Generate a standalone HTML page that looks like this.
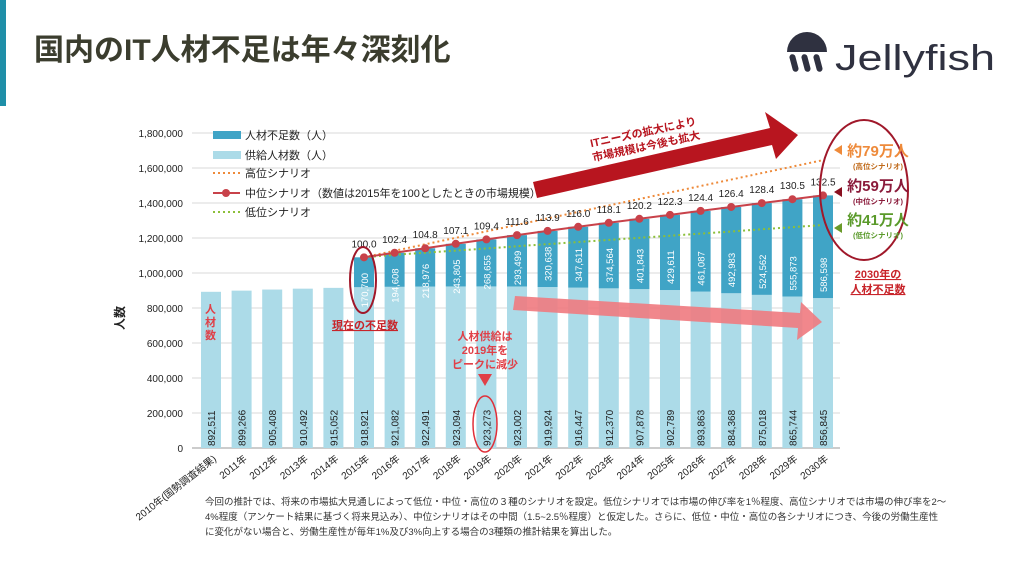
<!DOCTYPE html>
<html><head><meta charset="utf-8"><style>
body{margin:0;background:#fff;width:1024px;height:576px;overflow:hidden;font-family:"Liberation Sans","Noto Sans CJK JP",sans-serif}
</style></head><body>
<svg id="c" width="1024" height="576" viewBox="0 0 1024 576" xmlns="http://www.w3.org/2000/svg" font-family="Liberation Sans, Noto Sans CJK JP, sans-serif">
<rect x="0" y="0" width="6" height="106" fill="#1f8fa8"/>
<text x="34" y="60" font-size="30" font-weight="600" fill="#3b3d2e">国内のIT人材不足は年々深刻化</text>
<g>
<path d="M787,52 a20,20 0 0 1 40,0 z" fill="#2f3140"/>
<rect x="791" y="54" width="6" height="18" rx="3" fill="#2f3140" transform="rotate(-15 794 63)"/>
<rect x="803" y="54" width="6" height="18" rx="3" fill="#2f3140" transform="rotate(-15 806 63)"/>
<rect x="815" y="54" width="6" height="18" rx="3" fill="#2f3140" transform="rotate(-15 818 63)"/>
<text x="835" y="70" font-size="36" fill="#2f3140" textLength="160" lengthAdjust="spacingAndGlyphs">Jellyfish</text>
</g>
<g id="chart"></g>
<g font-size="9.5" fill="#333">
<text x="205" y="505">今回の推計では、将来の市場拡大見通しによって低位・中位・高位の３種のシナリオを設定。低位シナリオでは市場の伸び率を1％程度、高位シナリオでは市場の伸び率を2～</text>
<text x="205" y="520">4%程度（アンケート結果に基づく将来見込み）、中位シナリオはその中間（1.5~2.5％程度）と仮定した。さらに、低位・中位・高位の各シナリオにつき、今後の労働生産性</text>
<text x="205" y="535">に変化がない場合と、労働生産性が毎年1%及び3%向上する場合の3種類の推計結果を算出した。</text>
</g>
</svg>
<script>
const years=["2010年(国勢調査結果)","2011年","2012年","2013年","2014年","2015年","2016年","2017年","2018年","2019年","2020年","2021年","2022年","2023年","2024年","2025年","2026年","2027年","2028年","2029年","2030年"];
const supply=[892511,899266,905408,910492,915052,918921,921082,922491,923094,923273,923002,919924,916447,912370,907878,902789,893863,884368,875018,865744,856845];
const shortage=[0,0,0,0,0,170700,194608,218976,243805,268655,293499,320638,347611,374564,401843,429611,461087,492983,524562,555873,586598];
const marketIndex=["100.0","102.4","104.8","107.1","109.4","111.6","113.9","116.0","118.1","120.2","122.3","124.4","126.4","128.4","130.5","132.5"];
const highScenario=[1090000,1127000,1164000,1201000,1238000,1275000,1312000,1349000,1386000,1423000,1460000,1497000,1534000,1571000,1608000,1645000];
const lowScenario=[1090000,1104000,1116000,1128000,1140000,1153000,1165000,1177000,1189000,1201000,1213000,1225000,1237000,1250000,1262000,1274000];
const yTicks=[0,200000,400000,600000,800000,1000000,1200000,1400000,1600000,1800000];

const NS="http://www.w3.org/2000/svg";
const g=document.getElementById('chart');
function el(t,a,p){const e=document.createElementNS(NS,t);for(const k in a)e.setAttribute(k,a[k]);(p||g).appendChild(e);return e;}
const y=v=>448-v*0.000175;
const x=i=>211+i*30.6;
const fmt=v=>v.toLocaleString('en-US');
yTicks.forEach(v=>{
  const l=el('line',{x1:192,x2:840,y1:y(v),y2:y(v),stroke:'#d8d8d8','stroke-width':1});
  
  
  const t=el('text',{x:183,y:y(v)+4,'text-anchor':'end','font-size':10,fill:'#222'});
  t.textContent=fmt(v);
  
  
});
const ax=el('line',{x1:192,x2:840,y1:y(0),y2:y(0),stroke:'#999'});


const yt=el('text',{x:0,y:0,'font-size':12,'font-weight':'bold',fill:'#222',transform:'translate(124,318) rotate(-90)','text-anchor':'middle'});
yt.textContent='人数';


years.forEach((yr,i)=>{
  const cx=x(i),w=20;
  const b=el('rect',{x:cx-w/2,y:y(supply[i]),width:w,height:y(0)-y(supply[i]),fill:'#acdbe8'});
  
  
  const st=el('text',{x:0,y:0,transform:`translate(${cx+4},446) rotate(-90)`,'font-size':10,fill:'#222'});
  st.textContent=fmt(supply[i]);
  
  
  if(shortage[i]>0){
    const top=supply[i]+shortage[i];
    const sb=el('rect',{x:cx-w/2,y:y(top),width:w,height:y(supply[i])-y(top),fill:'#40a4c6'});
    
    
    const start=Math.max(y(supply[i])-6,y(top)+50);
    const sl=el('text',{x:0,y:0,transform:`translate(${cx+4},${start}) rotate(-90)`,'font-size':9.5,fill:'#fff'});
    sl.textContent=fmt(shortage[i]);
    
    
  }
  const xl=el('text',{x:0,y:0,transform:`translate(${cx+6},460) rotate(-38)`,'text-anchor':'end','font-size':10,fill:'#222'});
  xl.textContent=yr;
  
  
});
function pts(arr){return arr.map((v,j)=>`${x(j+5)},${y(v)}`).join(' ');}
const hl=el('polyline',{points:pts(highScenario),fill:'none',stroke:'#ee8a3a','stroke-width':2,'stroke-dasharray':'2 3'});


const ll=el('polyline',{points:pts(lowScenario),fill:'none',stroke:'#8cbf3a','stroke-width':2,'stroke-dasharray':'2 3'});


const mid=marketIndex.map((m,j)=>supply[j+5]+shortage[j+5]);
const ml=el('polyline',{points:pts(mid),fill:'none',stroke:'#c8424a','stroke-width':2});


mid.forEach((v,j)=>{
  const c=el('circle',{cx:x(j+5),cy:y(v),r:4,fill:'#c8424a'});
  
  
  const t=el('text',{x:x(j+5),y:y(v)-10,'text-anchor':'middle','font-size':10,fill:'#222'});
  t.textContent=marketIndex[j];
  
  
});
</script>
<svg width="1024" height="576" style="position:absolute;left:0;top:0" font-family="Liberation Sans, Noto Sans CJK JP, sans-serif">
<g font-size="11" fill="#222">
<rect x="213" y="131" width="28" height="8" fill="#40a4c6"/><text x="245" y="139">人材不足数（人）</text>
<rect x="213" y="151" width="28" height="8" fill="#acdbe8"/><text x="245" y="159">供給人材数（人）</text>
<line x1="213" y1="173" x2="240" y2="173" stroke="#ee8a3a" stroke-width="2" stroke-dasharray="2 3"/><text x="245" y="177">高位シナリオ</text>
<line x1="213" y1="193" x2="240" y2="193" stroke="#c8424a" stroke-width="2"/><circle cx="226" cy="193" r="4" fill="#c8424a"/><text x="245" y="197">中位シナリオ（数値は2015年を100としたときの市場規模）</text>
<line x1="213" y1="212" x2="240" y2="212" stroke="#8cbf3a" stroke-width="2" stroke-dasharray="2 3"/><text x="245" y="216">低位シナリオ</text>
</g>
<g>
<polygon points="533,182 770,128 765,112 798,135 776,159 772,145 537,198" fill="#b8151f"/>
<text transform="translate(644,136) rotate(-12)" text-anchor="middle" font-size="11" font-weight="bold" fill="#b8151f">ITニーズの拡大により</text>
<text transform="translate(647,150) rotate(-12)" text-anchor="middle" font-size="11" font-weight="bold" fill="#b8151f">市場規模は今後も拡大</text>
</g>
<polygon points="515,296 800,313 801,302 822,322 797,340 798,328 513,310" fill="#f07a80" opacity="0.9"/>
<ellipse cx="864" cy="190" rx="44" ry="70" fill="none" stroke="#a0182a" stroke-width="2"/>
<g font-weight="bold" text-anchor="middle">
<polygon points="834,150 842,145 842,155" fill="#ee8a3a"/>
<text x="878" y="156" font-size="15" fill="#ee8a3a">約79万人</text><text x="878" y="169" font-size="7.5" fill="#c06a1a">(高位シナリオ)</text>
<polygon points="834,192 842,187 842,197" fill="#8a1020"/>
<text x="878" y="191" font-size="15" fill="#8a1a3a">約59万人</text><text x="878" y="204" font-size="7.5" fill="#8a1a3a">(中位シナリオ)</text>
<polygon points="834,228 842,223 842,233" fill="#6a9a2a"/>
<text x="878" y="225" font-size="15" fill="#5a9a2a">約41万人</text><text x="878" y="238" font-size="7.5" fill="#5a9a2a">(低位シナリオ)</text>
</g>
<g font-size="11" font-weight="bold" fill="#c8242a" text-anchor="middle" text-decoration="underline">
<text x="878" y="278">2030年の</text><text x="878" y="293">人材不足数</text></g>
<ellipse cx="363" cy="280" rx="13" ry="33" fill="none" stroke="#a0182a" stroke-width="2"/>
<text x="365" y="329" font-size="11" font-weight="bold" fill="#c8242a" text-anchor="middle" text-decoration="underline">現在の不足数</text>
<ellipse cx="485" cy="424" rx="12" ry="28" fill="none" stroke="#e0303a" stroke-width="1.5"/>
<g font-size="11" font-weight="bold" fill="#e04048" text-anchor="middle">
<text x="485" y="340">人材供給は</text><text x="485" y="354">2019年を</text><text x="485" y="368">ピークに減少</text>
<polygon points="478,374 492,374 485,386" fill="#e04048"/></g>
<g font-size="11" font-weight="bold" fill="#e04048"><text x="205" y="313">人</text><text x="205" y="326">材</text><text x="205" y="339">数</text></g>
</svg>
</body></html>
